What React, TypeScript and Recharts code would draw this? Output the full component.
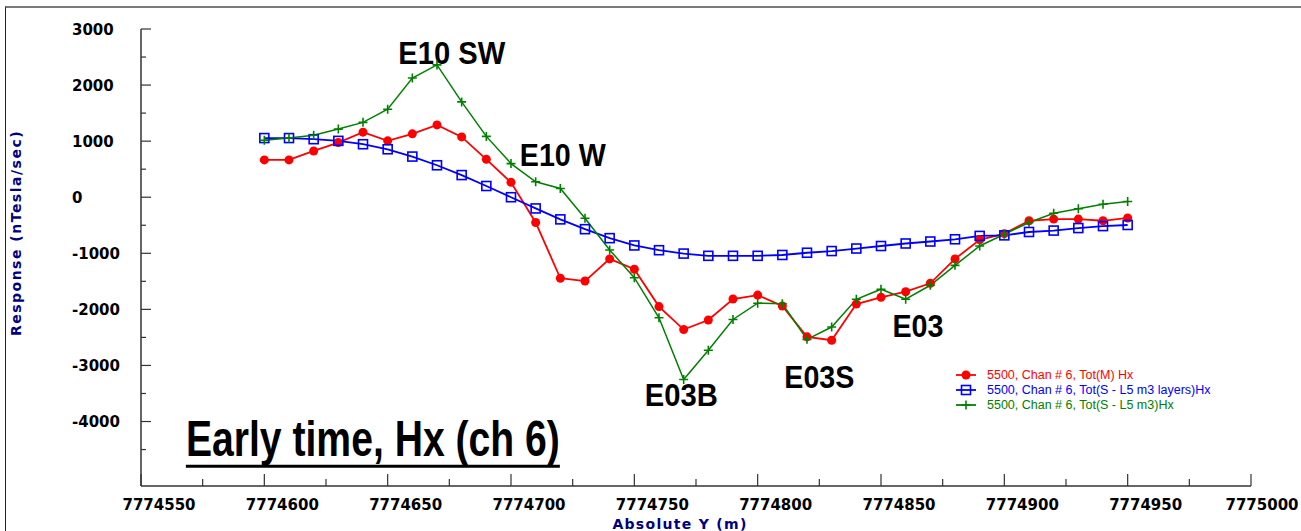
import { LineChart, Line, XAxis, YAxis, Legend, ReferenceDot } from 'recharts';

// station positions along the line (Absolute Y, m)
const stations = [
  7774600, 7774610, 7774620, 7774630, 7774640, 7774650, 7774660, 7774670, 7774680, 7774690,
  7774700, 7774710, 7774720, 7774730, 7774740, 7774750, 7774760, 7774770, 7774780, 7774790,
  7774800, 7774810, 7774820, 7774830, 7774840, 7774850, 7774860, 7774870, 7774880, 7774890,
  7774900, 7774910, 7774920, 7774930, 7774940, 7774950,
];

// Tot(M) Hx
const totM = [
  665, 665, 825, 975, 1160, 1005, 1130, 1290, 1075, 675,
  265, -450, -1445, -1495, -1100, -1285, -1950, -2360, -2190, -1815,
  -1745, -1940, -2490, -2550, -1905, -1785, -1685, -1535, -1100, -760,
  -650, -420, -390, -390, -420, -370,
];

// Tot(S - L5 m3 layers)Hx
const totLayers = [
  1055, 1055, 1035, 1005, 945, 855, 725, 570, 395, 200,
  0, -200, -395, -570, -730, -860, -945, -1005, -1045, -1045,
  -1045, -1030, -990, -960, -915, -870, -825, -790, -750, -690,
  -680, -620, -595, -550, -515, -495,
];

// Tot(S - L5 m3)Hx
const totM3 = [
  1015, 1055, 1105, 1215, 1335, 1570, 2125, 2360, 1700, 1085,
  600, 275, 155, -375, -940, -1435, -2150, -3250, -2730, -2180,
  -1890, -1900, -2535, -2315, -1820, -1640, -1820, -1570, -1215, -870,
  -660, -450, -285, -205, -125, -75,
];

const xTicks = [
  7774550, 7774575, 7774600, 7774625, 7774650, 7774675, 7774700, 7774725, 7774750, 7774775,
  7774800, 7774825, 7774850, 7774875, 7774900, 7774925, 7774950, 7774975, 7775000,
];
const yTicks = [3000, 2500, 2000, 1500, 1000, 500, 0, -500, -1000, -1500, -2000, -2500, -3000, -3500, -4000, -4500];

const seriesNames = [
  '5500, Chan # 6, Tot(M) Hx',
  '5500, Chan # 6, Tot(S - L5 m3 layers)Hx',
  '5500, Chan # 6, Tot(S - L5 m3)Hx',
];

// anomaly labels, placed in data coordinates
const anomalyLabels = ['E10 SW', 'E10 W', 'E03B', 'E03S', 'E03'];
const anomalyX = [7774676, 7774721, 7774769, 7774825, 7774865];
const anomalyY = [2380, 555, -3715, -3395, -2500];

const RED = '#ff0000';
const BLUE = '#0000ff';
const GREEN = '#008000';
const NAVY = '#000080';
const AXIS = '#333333';

const data = stations.map((s, i) => ({ s, m: totM[i], layers: totLayers[i], m3: totM3[i] }));

const RedDot = (p: any) => <circle key={p.index} cx={p.cx} cy={p.cy} r={4.5} fill={RED} />;
const BlueSquare = (p: any) => (
  <rect key={p.index} x={p.cx - 4.5} y={p.cy - 4.5} width={9} height={9} fill="none" stroke={BLUE} strokeWidth={1.6} />
);
const GreenPlus = (p: any) => (
  <path key={p.index} d={`M${p.cx - 4.5},${p.cy}H${p.cx + 4.5}M${p.cx},${p.cy - 4.5}V${p.cy + 4.5}`} stroke={GREEN} strokeWidth={1.6} />
);

const XTick = (p: any) => {
  const v = p.payload.value;
  const major = (v - 7774550) % 50 === 0;
  // labels sit a little right of their tick; keep the last one inside the frame
  const tx = Math.min(p.x + 18, 1262);
  return (
    <g>
      <line x1={p.x} x2={p.x} y1={p.y} y2={p.y - (major ? 12 : 7)} stroke={AXIS} strokeWidth={1.2} />
      {major && (
        <text x={tx} y={p.y + 24} textAnchor="middle" fontFamily="DejaVu Sans" fontWeight="bold" fontSize={15} fill="#000">
          {v}
        </text>
      )}
    </g>
  );
};

const YTick = (p: any) => {
  const v = p.payload.value;
  const major = v % 1000 === 0;
  return (
    <g>
      <line x1={p.x} x2={p.x + (major ? 10 : 5)} y1={p.y} y2={p.y} stroke={AXIS} strokeWidth={1.2} />
      {major && (
        <text x={p.x - 69} y={p.y + 5.5} textAnchor="start" fontFamily="DejaVu Sans" fontWeight="bold" fontSize={15} fill="#000">
          {v}
        </text>
      )}
    </g>
  );
};

const annoWidths = [107, 86, 73, 70, 51];

const Anno = (p: any, i: number) => {
  const { x, y } = p.viewBox;
  return (
    <g transform={`translate(${x},${y}) scale(1,1.1)`}>
      <text x={0} y={0} textAnchor="middle" fontFamily="Liberation Sans, Arial" fontWeight="bold" fontSize={29}
        textLength={annoWidths[i]} lengthAdjust="spacingAndGlyphs" fill="#000">
        {anomalyLabels[i]}
      </text>
    </g>
  );
};

const Title = (p: any) => {
  const { x, y } = p.viewBox;
  return (
    <g>
      <g transform={`translate(${x},${y}) scale(1,1.3)`}>
        <text x={0} y={0} textAnchor="middle" fontFamily="Liberation Sans, Arial" fontWeight="bold" fontSize={39}
          textLength={374} lengthAdjust="spacingAndGlyphs" fill="#000">
          Early time, Hx (ch 6)
        </text>
      </g>
      <line x1={x - 187} x2={x + 187} y1={y + 10} y2={y + 10} stroke="#000" strokeWidth={3} />
    </g>
  );
};

const LegendBox = () => {
  const colors = [RED, BLUE, GREEN];
  return (
    <svg width={300} height={48}>
      {seriesNames.map((name, i) => {
        const cy = 8 + i * 15;
        return (
          <g key={name}>
            <line x1={4} x2={24} y1={cy} y2={cy} stroke={colors[i]} strokeWidth={1.8} />
            {i === 0 && <circle cx={14} cy={cy} r={4.5} fill={RED} />}
            {i === 1 && <rect x={9.5} y={cy - 4.5} width={9} height={9} fill="none" stroke={BLUE} strokeWidth={1.6} />}
            {i === 2 && <path d={`M9.5,${cy}H18.5M14,${cy - 4.5}V${cy + 4.5}`} stroke={GREEN} strokeWidth={1.6} />}
            <text x={35} y={cy + 4.3} fontFamily="Liberation Sans, Arial" fontSize={12.5} fill={colors[i]}>
              {name}
            </text>
          </g>
        );
      })}
    </svg>
  );
};

export default function App() {
  return (
    <div style={{ position: 'fixed', left: 0, top: 0, width: 1301, height: 531, background: '#fff' }}>
      <div
        style={{
          position: 'absolute', left: 5, top: 6, right: 0, bottom: 0,
          borderTop: '2px solid #7a7a7a', borderLeft: '1.5px solid #222',
        }}
      />
      <LineChart width={1301} height={531} data={data} margin={{ top: 29, right: 50, bottom: 0, left: 0 }}>
        <XAxis
          dataKey="s"
          type="number"
          domain={[7774550, 7775000]}
          ticks={xTicks}
          interval={0}
          height={45}
          tickSize={0}
          tickMargin={0}
          tickLine={false}
          axisLine={{ stroke: AXIS, strokeWidth: 1.5 }}
          tick={<XTick />}
          label={{
            content: (p: any) => (
              <text x={p.viewBox.x + 539} y={p.viewBox.y + 43} textAnchor="middle" fontFamily="DejaVu Sans"
                fontWeight="bold" fontSize={14} letterSpacing={1.3} fill={NAVY}>
                Absolute Y (m)
              </text>
            ),
          }}
        />
        <YAxis
          type="number"
          domain={[-5150, 3000]}
          ticks={yTicks}
          interval={0}
          width={141}
          tickSize={0}
          tickMargin={0}
          tickLine={false}
          axisLine={{ stroke: AXIS, strokeWidth: 1.5 }}
          tick={<YTick />}
          label={{
            content: (p: any) => {
              const cx = p.viewBox.x + 16;
              const cy = p.viewBox.y + 204;
              return (
                <text x={cx} y={cy} transform={`rotate(-90,${cx},${cy})`} textAnchor="middle" dominantBaseline="central"
                  fontFamily="DejaVu Sans" fontWeight="bold" fontSize={14} letterSpacing={1.5} fill={NAVY}>
                  Response (nTesla/sec)
                </text>
              );
            },
          }}
        />
        <Line dataKey="m" name={seriesNames[0]} stroke={RED} strokeWidth={1.8} dot={RedDot} activeDot={false} isAnimationActive={false} />
        <Line dataKey="layers" name={seriesNames[1]} stroke={BLUE} strokeWidth={1.8} dot={BlueSquare} activeDot={false} isAnimationActive={false} />
        <Line dataKey="m3" name={seriesNames[2]} stroke={GREEN} strokeWidth={1.5} dot={GreenPlus} activeDot={false} isAnimationActive={false} />
        {anomalyLabels.map((t, i) => (
          <ReferenceDot key={t} x={anomalyX[i]} y={anomalyY[i]} r={0} fill="none" stroke="none"
            label={{ content: (p: any) => Anno(p, i) }} />
        ))}
        <ReferenceDot x={7774644} y={-4620} r={0} fill="none" stroke="none" label={{ content: (p: any) => Title(p) }} />
        <Legend
          layout="vertical"
          align="center"
          verticalAlign="middle"
          content={() => <LegendBox />}
          wrapperStyle={{ left: 952, top: 367, width: 300, height: 48 }}
        />
      </LineChart>
    </div>
  );
}
